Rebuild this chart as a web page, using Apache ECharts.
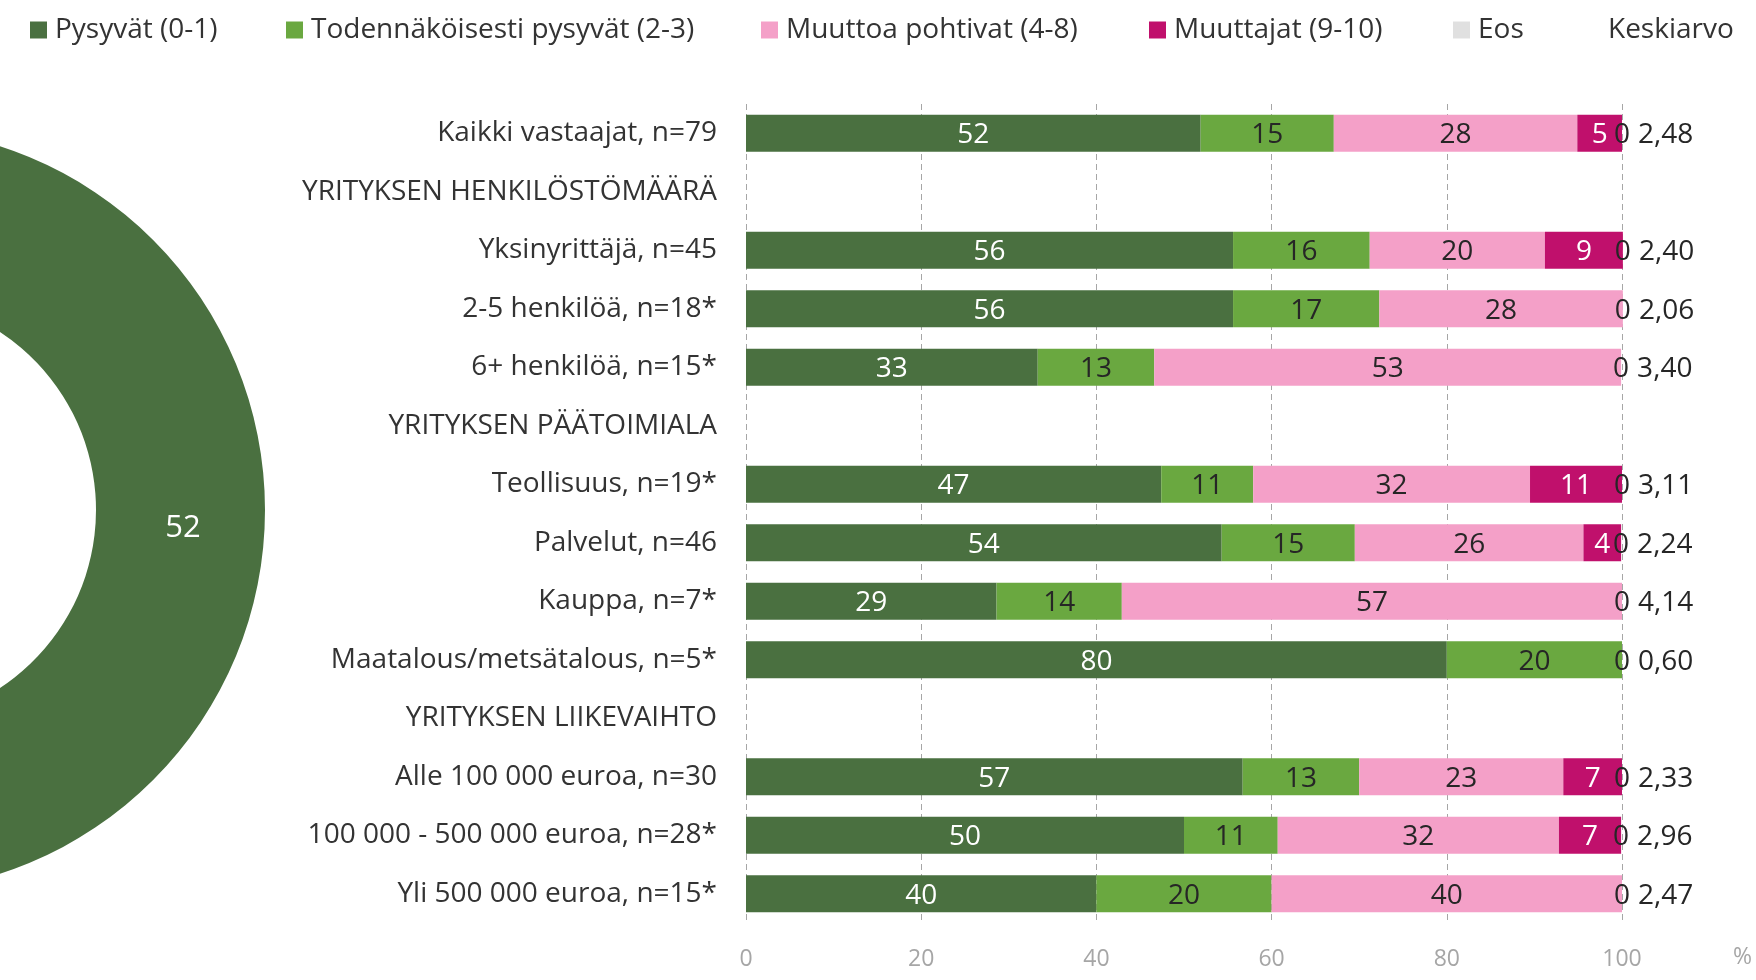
<!DOCTYPE html>
<html>
<head>
    <meta charset="UTF-8"/>
    <title>ECharts</title>
    <script src="https://cdn.jsdelivr.net/npm/echarts@6/dist/echarts.min.js"></script>
    <style>
        html, body { margin: 0; padding: 0; background: #fff; }
    </style>
</head>
<body>
<div id="main" style="width: 1756px;height:980px;"></div>
<script>
    // luokat (otsikkorivit ilman arvoja)
    var categories = [
        'Kaikki vastaajat, n=79',
        'YRITYKSEN HENKILÖSTÖMÄÄRÄ',
        'Yksinyrittäjä, n=45',
        '2-5 henkilöä, n=18*',
        '6+ henkilöä, n=15*',
        'YRITYKSEN PÄÄTOIMIALA',
        'Teollisuus, n=19*',
        'Palvelut, n=46',
        'Kauppa, n=7*',
        'Maatalous/metsätalous, n=5*',
        'YRITYKSEN LIIKEVAIHTO',
        'Alle 100 000 euroa, n=30',
        '100 000 - 500 000 euroa, n=28*',
        'Yli 500 000 euroa, n=15*'
    ];
    var seriesNames = ['Pysyvät (0-1)', 'Todennäköisesti pysyvät (2-3)', 'Muuttoa pohtivat (4-8)', 'Muuttajat (9-10)', 'Eos', 'Keskiarvo'];

    var pysyvat   = [51.9, null, 55.6, 55.6, 33.3, null, 47.4, 54.3, 28.6, 80, null, 56.7, 50.0, 40];
    var todnak    = [15.2, null, 15.6, 16.7, 13.3, null, 10.5, 15.2, 14.3, 20, null, 13.3, 10.7, 20];
    var muuttoa   = [27.8, null, 20.0, 27.8, 53.3, null, 31.6, 26.1, 57.1, null, null, 23.3, 32.1, 40];
    var muuttajat = [5.1, null, 8.9, null, null, null, 10.5, 4.3, null, null, null, 6.7, 7.1, null];
    var eos       = [0, null, 0, 0, 0, null, 0, 0, 0, 0, null, 0, 0, 0];
    var keskiarvo = [2.48, null, 2.40, 2.06, 3.40, null, 3.11, 2.24, 4.14, 0.60, null, 2.33, 2.96, 2.47];
    var xTicks = {min: 0, max: 100, interval: 20};

    var colors = ['#4a7040', '#6aa840', '#f4a0c8', '#c0106c', '#e0e0e0', 'rgba(0,0,0,0)'];
    var labelColors = ['#ffffff', '#262626', '#262626', '#ffffff', '#262626', '#262626'];
    var font = '"Open Sans", "Noto Sans", sans-serif';

    // legendan sijainnit
    var legendLeft = [25, 281, 756, 1144, 1448, 1578];

    var myChart = echarts.init(document.getElementById('main'));

    function bar(i, values) {
        return {
            name: seriesNames[i],
            type: 'bar',
            stack: 'all',
            barWidth: 37,
            clip: false,
            itemStyle: {color: colors[i]},
            label: {
                show: true,
                position: 'inside',
                offset: [0, 2],
                color: labelColors[i],
                fontFamily: font,
                fontSize: 28,
                formatter: function (p) { return Math.round(p.value); }
            },
            data: values
        };
    }

    var series = [
        bar(0, pysyvat),
        bar(1, todnak),
        bar(2, muuttoa),
        bar(3, muuttajat),
        bar(4, eos),
        {
            name: seriesNames[5],
            type: 'bar',
            stack: 'all',
            barWidth: 37,
            clip: false,
            itemStyle: {color: colors[5]},
            label: {
                show: true,
                position: 'right',
                distance: 16,
                offset: [0, 2],
                color: '#262626',
                fontFamily: font,
                fontSize: 28,
                formatter: function (p) { return keskiarvo[p.dataIndex].toFixed(2).replace('.', ','); }
            },
            data: keskiarvo.map(function (v) { return v == null ? null : 0; })
        },
        {
            // iso rengas vasemmalla: kaikki vastaajat
            type: 'pie',
            silent: true,
            center: [-117, 510],
            radius: [213, 382],
            startAngle: 90,
            clockwise: true,
            legendHoverLink: false,
            label: {
                show: true,
                position: 'inside',
                color: '#fff',
                fontFamily: font,
                fontSize: 31,
                formatter: function (p) { return Math.round(p.value); }
            },
            labelLine: {show: false},
            data: [
                {value: pysyvat[0], name: seriesNames[0], itemStyle: {color: colors[0]}},
                {value: todnak[0], name: seriesNames[1], itemStyle: {color: colors[1]}},
                {value: muuttoa[0], name: seriesNames[2], itemStyle: {color: colors[2]}},
                {value: muuttajat[0], name: seriesNames[3], itemStyle: {color: colors[3]}}
            ]
        }
    ];

    var legends = seriesNames.map(function (n, i) {
        return {
            data: [n],
            left: legendLeft[i],
            top: 8,
            itemWidth: 17,
            itemHeight: 17,
            icon: 'rect',
            selectedMode: false,
            textStyle: {
                fontFamily: font,
                fontSize: 28,
                color: '#333',
                lineHeight: 34,
                padding: [0, 0, 0, 3]
            }
        };
    });

    var option = {
        animation: false,
        legend: legends,
        grid: {left: 746, right: 134, top: 104, bottom: 57, containLabel: false},
        xAxis: {
            type: 'value',
            min: xTicks.min,
            max: xTicks.max,
            interval: xTicks.interval,
            axisLine: {show: false},
            axisTick: {show: false},
            axisLabel: {color: '#a6a6a6', fontFamily: font, fontSize: 23, margin: 25},
            splitLine: {show: true, lineStyle: {color: '#a6a6a6', width: 1, type: [6, 4]}}
        },
        yAxis: {
            type: 'category',
            inverse: true,
            data: categories,
            axisLine: {show: false},
            axisTick: {show: false},
            axisLabel: {color: '#333', fontFamily: font, fontSize: 28, margin: 29, padding: [4, 0, 0, 0]}
        },
        graphic: [{
            type: 'text',
            left: 1733,
            top: 946,
            style: {text: '%', fill: '#a6a6a6', font: '23px ' + font}
        }],
        series: series
    };

    myChart.setOption(option);
</script>
</body>
</html>
